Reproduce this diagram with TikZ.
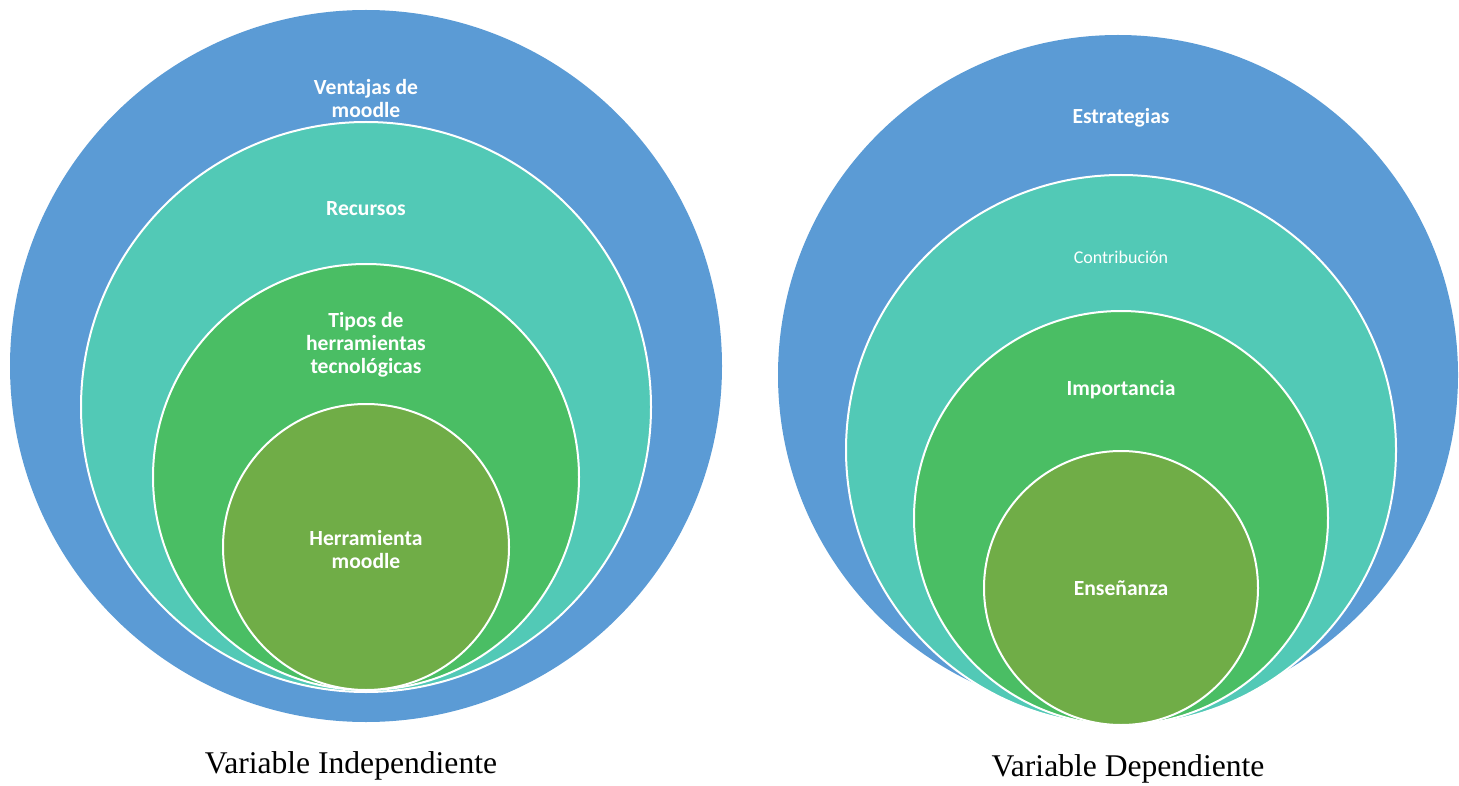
\documentclass[tikz,border=0pt]{standalone}
\usepackage{fontspec}
\setmainfont{Liberation Serif}
\newfontfamily\labfont{Carlito}
\definecolor{cblue}{RGB}{91,155,213}
\definecolor{cteal}{RGB}{82,201,182}
\definecolor{cgreen}{RGB}{74,190,100}
\definecolor{colive}{RGB}{112,173,71}
\tikzset{
  ring/.style={circle, inner sep=0pt, outer sep=0pt, draw=white, line width=2pt},
  lab/.style={text=white, align=center, font=\labfont\bfseries\fontsize{21.6}{23}\selectfont, inner sep=0pt},
  labreg/.style={text=white, align=center, font=\labfont\fontsize{18}{21}\selectfont, inner sep=0pt},
  captext/.style={text=black, font=\fontsize{31.6}{36}\selectfont, inner sep=0pt}
}
\begin{document}
\begin{tikzpicture}[x=1pt,y=-1pt]
\useasboundingbox (0,0) rectangle (1459,786);
% left diagram
\node[circle, inner sep=0pt, fill=cblue, minimum size=712pt] (l1) at (366,366) {};
\node[ring, fill=cteal, minimum size=570pt] (l2) at (366,407) {};
\node[ring, fill=cgreen, minimum size=426pt] (l3) at (366,477) {};
\node[ring, fill=colive, minimum size=286pt] (l4) at (366,547) {};
\node[lab] (t1) at (366,99) {Ventajas de\\moodle};
\node[lab] (t2) at (366,209) {Recursos};
\node[lab] (t3) at (366,345) {Tipos de\\herramientas\\tecnológicas};
\node[lab] (t4) at (366,549) {Herramienta\\moodle};
\node[captext] (c1) at (351,766) {Variable Independiente};
% right diagram
\node[circle, inner sep=0pt, fill=cblue, minimum size=680pt] (r1) at (1118,375) {};
\node[ring, fill=cteal, minimum size=550pt] (r2) at (1121,450) {};
\node[ring, fill=cgreen, minimum size=414pt] (r3) at (1121,518) {};
\node[ring, fill=colive, minimum size=274pt] (r4) at (1121,588) {};
\node[lab] (s1) at (1121,118) {Estrategias};
\node[labreg] (s2) at (1121,257) {Contribución};
\node[lab] (s3) at (1121,390) {Importancia};
\node[lab] (s4) at (1121,588) {Enseñanza};
\node[captext] (c2) at (1128,769) {Variable Dependiente};
\end{tikzpicture}
\end{document}
